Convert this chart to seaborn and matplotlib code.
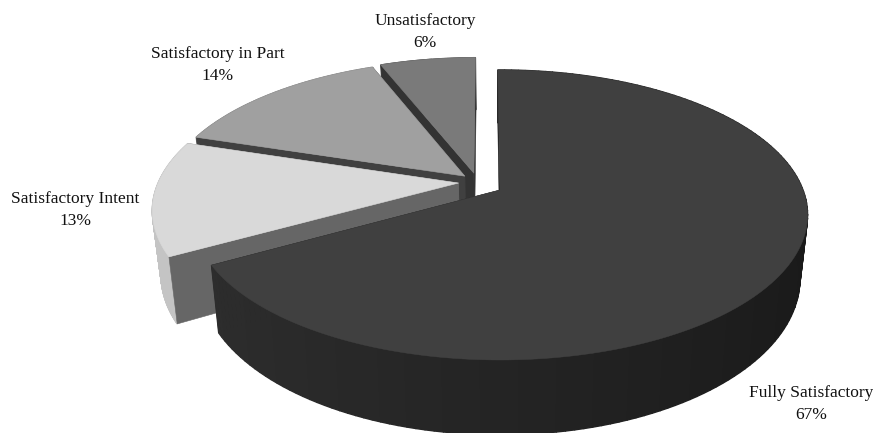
import numpy as np
import matplotlib
matplotlib.use('Agg')
import matplotlib.pyplot as plt
from matplotlib.patches import Polygon
import seaborn as sns

# chart values
categories = ['Fully Satisfactory', 'Satisfactory Intent', 'Satisfactory in Part', 'Unsatisfactory']
shares = [67, 13, 14, 6]

# greys per slice
top_colors = ['#404040', '#d9d9d9', '#a0a0a0', '#7a7a7a']
cut_colors = ['#1c1c1c', '#666666', '#404040', '#333333']
rim_left = ['#2e2e2e', '#c4c4c4', '#8a8a8a', '#666666']
rim_right = ['#1a1a1a', '#c4c4c4', '#8a8a8a', '#666666']

# how far each slice is pulled out, in disc units
pull_u = [0, -0.138, -0.118, -0.088]
pull_v = [0, 0.05, 0.1, 0.122]

label_x = [811, 75, 218, 425]
label_y = [404, 210, 65, 32]

# perspective set up, pixels
CX, CY = 500, 190
RX, RY = 303, 140.7
TILT = 0.172
DEPTH = 62
BOTTOM_SHRINK = 0.975


def project(u, v, z=0.0):
    """Disc coords -> image pixels, z=0 is the top face, z=1 the bottom"""
    w = 1 + TILT * v
    x = CX + RX * u / w * (1 - (1 - BOTTOM_SHRINK) * z)
    y = CY - RY * v / w + DEPTH * z / w
    return np.column_stack([x, y])


def grey_mix(c1, c2, t):
    a = np.array(matplotlib.colors.to_rgb(c1))
    b = np.array(matplotlib.colors.to_rgb(c2))
    return tuple(a + (b - a) * t)


def draw_cuts(i, u, v, au, av):
    for idx in [0, -1]:
        eu, ev = np.array([u[idx]]), np.array([v[idx]])
        quad = np.vstack([project(au, av), project(eu, ev), project(eu, ev, 1.0), project(au, av, 1.0)])
        ax.add_patch(Polygon(quad, closed=True, fc=cut_colors[i], ec=cut_colors[i], lw=0.4))


sns.set_theme(style='white')
plt.rcParams['font.family'] = ['Liberation Serif', 'DejaVu Serif']

fig = plt.figure(figsize=(8.73, 4.33), dpi=100)
ax = fig.add_axes([0, 0, 1, 1])

# pie only gives the wedge angles, the faces are projected by hand below
wedges, _ = ax.pie(shares, startangle=90.5, counterclock=False)
angles = [(w.theta1, w.theta2) for w in wedges]
for w in wedges:
    w.remove()

ax.set_aspect('auto')
ax.set_xlim(0, 873)
ax.set_ylim(433, 0)
ax.axis('off')

# back slices first so the front ones cover them
for i in [3, 2, 1, 0]:
    t1, t2 = np.radians(angles[i])
    theta = np.linspace(t1, t2, 160)
    u = pull_u[i] + np.cos(theta)
    v = pull_v[i] + np.sin(theta)
    au, av = np.array([pull_u[i]]), np.array([pull_v[i]])

    # the big slice has its cuts behind the outer wall
    if i == 0:
        draw_cuts(i, u, v, au, av)

    # outer wall, in thin strips for the shading
    for k in range(len(theta) - 1):
        uu, vv = u[k:k + 2], v[k:k + 2]
        strip = np.vstack([project(uu, vv), project(uu[::-1], vv[::-1], 1.0)])
        t = np.clip((uu.mean() + 1) / 2, 0, 1)
        col = grey_mix(rim_left[i], rim_right[i], t)
        ax.add_patch(Polygon(strip, closed=True, fc=col, ec=col, lw=1.0))

    if i != 0:
        draw_cuts(i, u, v, au, av)

    # top face
    face = np.vstack([project(au, av), project(u, v)])
    ax.add_patch(Polygon(face, closed=True, fc=top_colors[i], ec=top_colors[i], lw=0.4))

for name, share, x, y in zip(categories, shares, label_x, label_y):
    ax.text(x, y, f'{name}\n{share}%', ha='center', va='center', fontsize=12.5,
            color='#111111', linespacing=1.48)

fig.savefig('out.png', dpi=100)
